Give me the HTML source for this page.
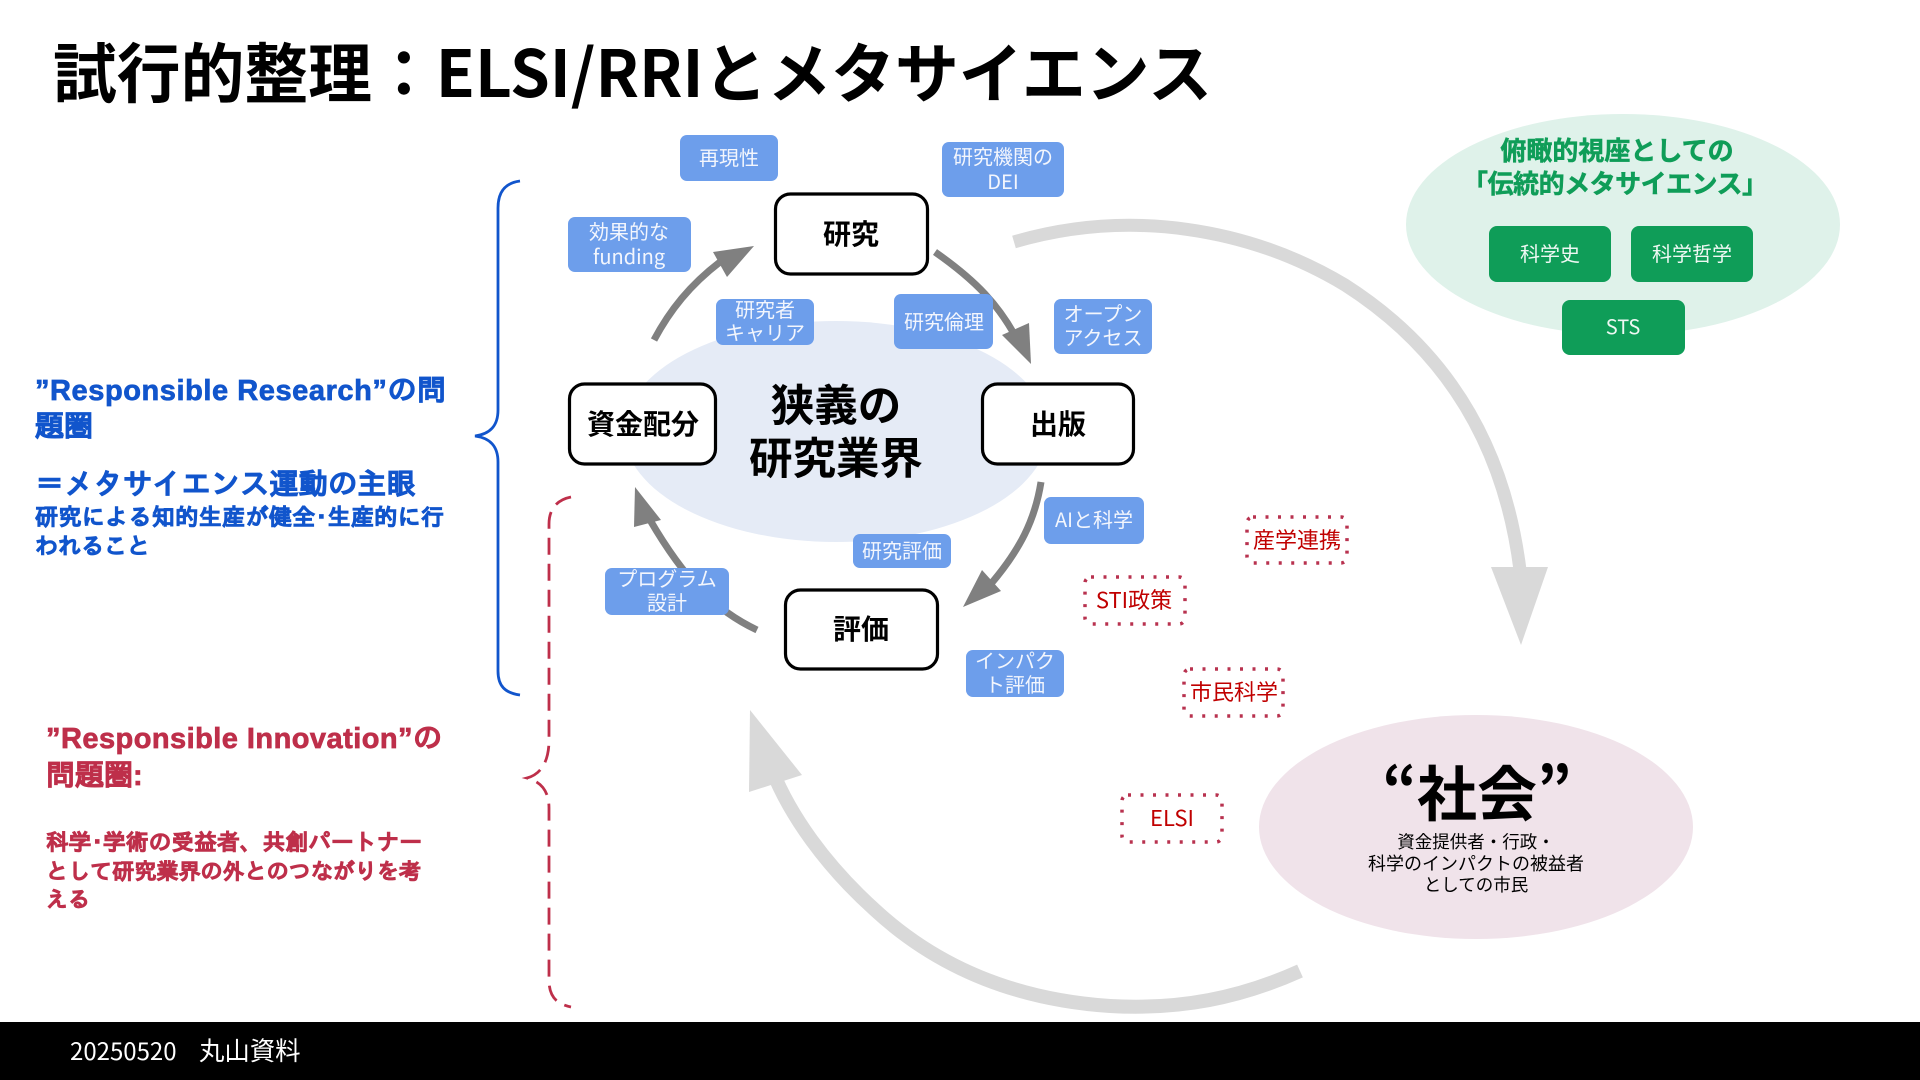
<!DOCTYPE html>
<html lang="ja"><head><meta charset="utf-8"><title>試行的整理</title>
<style>
html,body{margin:0;padding:0;background:#fff;width:1920px;height:1080px;overflow:hidden}
svg{display:block}
text{font-family:"Liberation Sans","Noto Sans CJK JP",sans-serif}
.n{font-family:"Noto Sans CJK JP",sans-serif}
.g{font-family:"Liberation Sans","IPAGothic",sans-serif;font-weight:700}
.b{fill:#6d9eeb}
.bt{fill:#f3f6fd;font-size:20px;text-anchor:middle;font-family:"Noto Sans CJK JP",sans-serif}
.w{fill:#fff;stroke:#000;stroke-width:3.2}
.wt{font-size:28px;font-weight:700;text-anchor:middle;font-family:"Noto Sans CJK JP",sans-serif}
.d{fill:none;stroke:#b8324f;stroke-width:3.5;stroke-dasharray:3 9.5}
.dt{fill:#c00000;font-size:22px;text-anchor:middle;font-family:"Noto Sans CJK JP",sans-serif}
.gr{fill:#0f9d58}
.grt{fill:#eef8f3;font-size:20px;text-anchor:middle;font-family:"Noto Sans CJK JP",sans-serif}
</style></head><body>
<svg width="1920" height="1080" viewBox="0 0 1920 1080" xmlns="http://www.w3.org/2000/svg">
<rect width="1920" height="1080" fill="#fff"/>
<text class="n" x="53" y="97" font-size="65" font-weight="700" textLength="1159" lengthAdjust="spacingAndGlyphs">試行的整理：ELSI/RRIとメタサイエンス</text>

<ellipse cx="836" cy="431.500" rx="212" ry="110.500" fill="#e5ebf6"/>
<ellipse cx="1623" cy="224.500" rx="217" ry="110.500" fill="#dff2ea"/>
<ellipse cx="1476" cy="827" rx="217" ry="112" fill="#f0e3ea"/>

<!-- big light arrows -->
<path d="M1014 242 C1130 208 1250 228 1345 285 C1450 352 1505 450 1520 570" fill="none" stroke="#d9d9d9" stroke-width="13"/>
<polygon points="1491,567 1548,567 1521,645" fill="#d9d9d9"/>
<path d="M1300 971 C1240 998 1180 1010 1110 1006 C1020 1000 940 970 875 910 C825 865 790 815 772 770" fill="none" stroke="#d9d9d9" stroke-width="14"/>
<polygon points="750,710 749,792 802,775" fill="#d9d9d9"/>

<!-- cycle arrows -->
<g fill="none" stroke="#808080" stroke-width="7">
<path d="M654 340 C670 310 690 285 720 262"/>
<path d="M935 252 C975 280 1000 305 1020 345"/>
<path d="M1041 482 C1035 520 1020 550 990 585"/>
<path d="M757 630 C715 610 685 580 650 520"/>
</g>
<g fill="#808080">
<polygon points="754,246 713,252 727,277"/>
<polygon points="1031,364 1002,335 1029,323"/>
<polygon points="963,607 982,570 1001,591"/>
<polygon points="635,487 634,527 661,520"/>
</g>

<!-- braces -->
<path d="M520 181 C505 183 498 192 498 208 L498 410 C498 426 490 434 475 436 C490 438 498 446 498 462 L498 671 C498 686 505 693 520 695" fill="none" stroke="#1155cc" stroke-width="2.800"/>
<path d="M571 497 C556 500 549 510 549 524 L549 740 C549 760 542 774 527 778 C542 782 549 792 549 808 L549 980 C549 996 556 1004 571 1007" fill="none" stroke="#be2f4a" stroke-width="2.800" stroke-dasharray="17 9"/>

<!-- white nodes -->
<rect class="w" x="775.500" y="194" width="152" height="80" rx="15"/>
<rect class="w" x="982.500" y="384" width="151" height="80" rx="15"/>
<rect class="w" x="569.500" y="384" width="146" height="80" rx="15"/>
<rect class="w" x="785.500" y="590" width="152" height="79" rx="15"/>
<text class="wt" x="851" y="244">研究</text>
<text class="wt" x="1058" y="434">出版</text>
<text class="wt" x="643" y="434">資金配分</text>
<text class="wt" x="861" y="639">評価</text>

<text class="n" x="836" y="421" font-size="43.500" font-weight="700" text-anchor="middle">狭義の</text>
<text class="n" x="836" y="474" font-size="43.500" font-weight="700" text-anchor="middle">研究業界</text>

<!-- blue boxes -->
<rect class="b" x="680" y="135" width="98" height="46" rx="7"/>
<rect class="b" x="942" y="142" width="122" height="55" rx="7"/>
<rect class="b" x="568" y="217" width="123" height="55" rx="7"/>
<rect class="b" x="716" y="299" width="98" height="46" rx="7"/>
<rect class="b" x="894" y="294" width="99" height="55" rx="7"/>
<rect class="b" x="1054" y="299" width="98" height="55" rx="7"/>
<rect class="b" x="1044" y="497" width="100" height="47" rx="7"/>
<rect class="b" x="853" y="534" width="98" height="34" rx="7"/>
<rect class="b" x="605" y="568" width="124" height="47" rx="7"/>
<rect class="b" x="966" y="650" width="98" height="47" rx="7"/>
<text class="bt" x="729" y="165">再現性</text>
<text class="bt" x="1003" y="164">研究機関の</text><text class="bt" x="1003" y="189">DEI</text>
<text class="bt" x="629" y="239">効果的な</text><text class="bt" x="629" y="264">funding</text>
<text class="bt" x="765" y="317">研究者</text><text class="bt" x="765" y="340">キャリア</text>
<text class="bt" x="944" y="329">研究倫理</text>
<text class="bt" x="1103" y="321">オープン</text><text class="bt" x="1103" y="345">アクセス</text>
<text class="bt" x="1094" y="527">AIと科学</text>
<text class="bt" x="902" y="558">研究評価</text>
<text class="bt" x="667" y="586">プログラム</text><text class="bt" x="667" y="610">設計</text>
<text class="bt" x="1015" y="668">インパク</text><text class="bt" x="1015" y="692">ト評価</text>

<!-- dotted boxes -->
<rect class="d" x="1247" y="517" width="100" height="46" rx="6"/>
<rect class="d" x="1085" y="577" width="100" height="47" rx="6"/>
<rect class="d" x="1184" y="669" width="99" height="47" rx="6"/>
<rect class="d" x="1122" y="795" width="100" height="47" rx="6"/>
<text class="dt" x="1297" y="548">産学連携</text>
<text class="dt" x="1134" y="608">STI政策</text>
<text class="dt" x="1234" y="700">市民科学</text>
<text class="dt" x="1172" y="826">ELSI</text>

<!-- green group -->
<text class="n" x="1617" y="160" font-size="26" font-weight="700" fill="#0f9d58" stroke="#0f9d58" stroke-width="0.500" text-anchor="middle">俯瞰的視座としての</text>
<text class="n" x="1615" y="193" font-size="26" font-weight="700" fill="#0f9d58" stroke="#0f9d58" stroke-width="0.500" text-anchor="middle" textLength="306">「伝統的メタサイエンス」</text>
<rect class="gr" x="1489" y="226" width="122" height="56" rx="8"/>
<rect class="gr" x="1631" y="226" width="122" height="56" rx="8"/>
<rect class="gr" x="1562" y="300" width="123" height="55" rx="8"/>
<text class="grt" x="1550" y="261">科学史</text>
<text class="grt" x="1692" y="261">科学哲学</text>
<text class="grt" x="1623" y="334">STS</text>

<!-- society -->
<text class="n" x="1477" y="816" font-size="60" font-weight="700" text-anchor="middle">“社会”</text>
<text class="n" x="1476" y="848" font-size="17.500" text-anchor="middle">資金提供者・行政・</text>
<text class="n" x="1476" y="870" font-size="18" text-anchor="middle">科学のインパクトの被益者</text>
<text class="n" x="1476" y="891" font-size="17.500" text-anchor="middle">としての市民</text>

<!-- left texts -->
<g fill="#1155cc" stroke="#1155cc" stroke-width="0.700">
<text class="g" x="35" y="400" font-size="29" textLength="411">”Responsible Research”の問</text>
<text class="g" x="35" y="436" font-size="29">題圏</text>
<text class="g" x="35" y="494" font-size="29.300">＝メタサイエンス運動の主眼</text>
<text class="g" x="35" y="525" font-size="23" textLength="409">研究による知的生産が健全･生産的に行</text>
<text class="g" x="35" y="554" font-size="23">われること</text>
</g>
<g fill="#be2f4a" stroke="#be2f4a" stroke-width="0.700">
<text class="g" x="46" y="748" font-size="29" textLength="396">”Responsible Innovation”の</text>
<text class="g" x="46" y="785" font-size="29">問題圏:</text>
<text class="g" x="46" y="850" font-size="22.500" textLength="376">科学･学術の受益者、共創パートナー</text>
<text class="g" x="46" y="879" font-size="22" textLength="375">として研究業界の外とのつながりを考</text>
<text class="g" x="46" y="907" font-size="22">える</text>
</g>

<!-- footer -->
<rect x="0" y="1022" width="1920" height="58" fill="#000"/>
<text class="n" x="70" y="1060" font-size="24" fill="#fff">20250520</text>
<text class="n" x="199" y="1060" font-size="25.400" fill="#fff">丸山資料</text>
</svg>
</body></html>
